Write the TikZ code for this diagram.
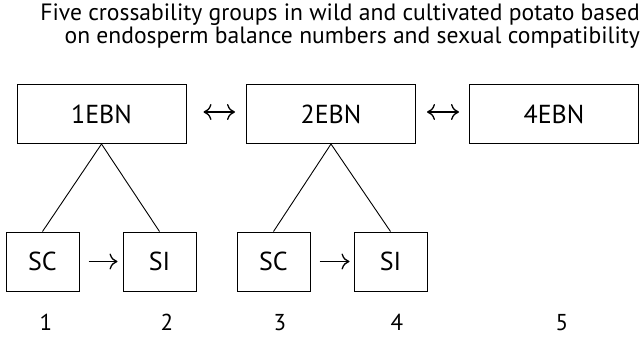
\documentclass[tikz,border=0pt]{standalone}
\usepackage{fontspec}
\setmainfont{PT Sans}
\usetikzlibrary{arrows.meta}
\begin{document}
\begin{tikzpicture}[x=1pt,y=-1pt,
  bigbox/.style={draw, line width=1pt, minimum width=169pt, minimum height=59pt, inner sep=0pt, font=\fontsize{26}{30}\selectfont},
  smallbox/.style={draw, line width=1pt, minimum width=73pt, minimum height=59pt, inner sep=0pt, font=\fontsize{26}{30}\selectfont},
  titletext/.style={anchor=base east, inner sep=0pt, font=\fontsize{23.6}{28}\selectfont},
  numtext/.style={anchor=base, inner sep=0pt, font=\fontsize{23}{26}\selectfont},
  link/.style={line width=0.9pt},
  dbl/.style={line width=1.3pt, {Computer Modern Rightarrow[length=8pt,width=16pt]}-{Computer Modern Rightarrow[length=8pt,width=16pt]}},
  sgl/.style={line width=1.3pt, -{Computer Modern Rightarrow[length=8pt,width=16pt]}}
]
\useasboundingbox (0,0) rectangle (644,338);
\node[titletext] (t1) at (640,20) {Five crossability groups in wild and cultivated potato based};
\node[titletext] (t2) at (640,43) {on endosperm balance numbers and sexual compatibility};

\node[bigbox] (e1) at (101.5,114) {1EBN};
\node[bigbox] (e2) at (331,114) {2EBN};
\node[bigbox] (e4) at (554,114) {4EBN};

\node[smallbox] (sc1) at (42.5,261.5) {SC};
\node[smallbox] (si1) at (159.5,261.5) {SI};
\node[smallbox] (sc2) at (273.5,261.5) {SC};
\node[smallbox] (si2) at (390.5,261.5) {SI};

\draw[dbl, shorten <=17pt, shorten >=11pt] ([yshift=2pt]e1.east) -- ([yshift=2pt]e2.west);
\draw[dbl, shorten <=11pt, shorten >=10pt] ([yshift=2pt]e2.east) -- ([yshift=2pt]e4.west);
\draw[sgl, shorten <=9pt, shorten >=5pt] (sc1.east) -- (si1.west);
\draw[sgl, shorten <=9pt, shorten >=4pt] (sc2.east) -- (si2.west);

\draw[link] (e1.south) -- (sc1.north);
\draw[link] (e1.south) -- (si1.north);
\draw[link] (e2.south) -- (sc2.north);
\draw[link] (e2.south) -- (si2.north);

\node[numtext] (n1) at (46,330) {1};
\node[numtext] (n2) at (167,330) {2};
\node[numtext] (n3) at (280,330) {3};
\node[numtext] (n4) at (397,330) {4};
\node[numtext] (n5) at (562,330) {5};
\end{tikzpicture}
\end{document}
